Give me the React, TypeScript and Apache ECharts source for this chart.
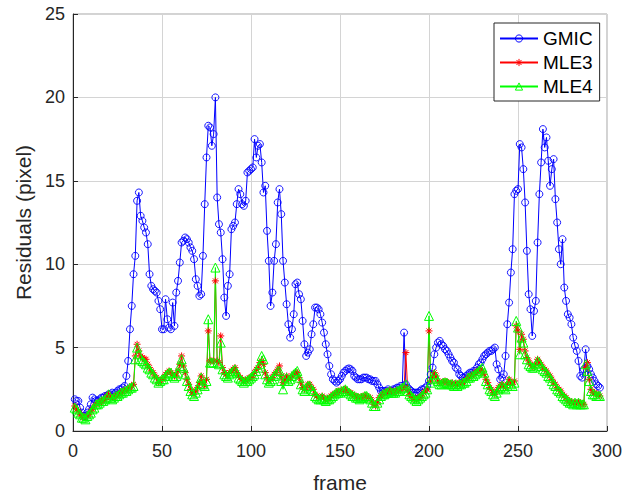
import React, { useEffect, useRef } from "react";
import * as echarts from "echarts";

const gmic = [
  1.9,1.8,1.8,1.4,1.1,0.9,0.9,1.1,1.3,1.6,
  2.0,1.9,1.8,1.8,1.9,2.0,2.0,2.1,2.1,2.2,
  2.2,2.3,2.2,2.3,2.4,2.5,2.5,2.6,2.7,3.3,
  4.2,6.1,7.5,9.4,10.5,13.8,14.3,12.9,12.6,12.2,
  11.9,11.2,9.4,8.7,8.5,8.4,8.3,7.8,7.3,6.1,
  6.1,7.9,6.7,6.2,6.1,7.7,6.3,8.3,9.0,10.1,
  11.3,11.4,11.6,11.5,11.3,11.0,10.8,10.3,9.1,8.7,
  8.1,8.2,10.5,13.6,16.4,18.3,18.2,17.1,17.8,20.0,
  14.0,12.4,11.9,10.3,8.0,6.9,8.7,9.4,12.1,12.3,
  12.5,13.6,14.5,14.2,13.6,13.5,13.8,15.5,15.6,15.7,
  15.8,17.5,16.4,17.1,17.2,16.1,14.3,14.7,12.0,10.2,
  7.5,8.3,10.2,11.2,13.7,14.5,13.0,10.2,8.9,7.6,
  6.4,5.6,6.1,7.0,8.8,8.9,8.2,7.9,6.6,5.2,
  4.5,4.7,4.9,5.8,6.4,7.4,7.4,7.3,7.0,6.5,
  5.9,5.2,4.6,3.9,3.4,3.1,3.0,2.9,3.0,3.1,
  3.3,3.5,3.6,3.7,3.75,3.7,3.6,3.3,3.2,3.1,
  3.1,3.1,3.2,3.2,3.2,3.1,3.1,3.0,3.0,3.0,
  2.8,2.6,2.4,2.4,2.4,2.4,2.5,2.4,2.4,2.5,
  2.5,2.6,2.6,2.7,2.7,5.9,2.8,2.6,2.5,2.4,
  2.3,2.3,2.3,2.3,2.4,2.5,2.5,2.6,2.7,3.0,
  3.4,3.8,4.6,5.0,5.3,5.4,5.2,5.1,4.9,4.8,
  4.6,4.4,4.2,4.1,3.8,3.7,3.4,3.3,3.2,3.2,
  3.3,3.4,3.5,3.5,3.6,3.6,3.8,4.0,4.1,4.3,
  4.5,4.6,4.7,4.8,4.8,4.9,5.0,4.0,3.7,3.1,
  3.2,3.4,4.5,6.4,7.7,9.5,10.9,14.2,14.4,14.5,
  17.2,17.0,15.7,13.7,10.8,8.2,7.3,5.7,7.2,7.8,
  11.3,14.2,16.1,18.1,17.0,17.6,16.2,14.7,15.7,16.3,
  13.9,12.5,10.9,10.0,11.5,8.6,7.8,7.0,6.8,6.4,
  5.6,5.1,4.8,4.2,3.3,3.2,3.7,4.9,3.9,3.7,
  3.4,3.2,3.0,2.8,2.7,2.6,
];

const mle3 = [
  1.5,1.3,1.2,1.0,0.9,0.8,0.8,0.9,1.0,1.2,
  1.3,1.5,1.6,1.7,1.7,1.8,1.8,1.9,2.1,2.2,
  2.0,2.0,2.0,2.1,2.2,2.2,2.3,2.4,2.4,2.5,
  2.5,2.6,2.7,2.8,4.5,5.2,4.8,4.5,4.4,4.3,
  4.3,4.0,3.8,3.6,3.5,3.3,3.2,2.9,3.0,3.1,
  3.2,3.4,3.5,3.6,3.5,3.4,3.3,3.3,3.6,4.0,
  4.5,3.9,3.5,3.1,2.8,2.5,2.3,2.2,2.4,2.6,
  2.9,3.3,2.9,2.7,3.1,6.0,4.2,4.2,4.2,9.0,
  4.2,4.1,5.7,3.8,3.5,3.4,3.3,3.5,3.6,3.7,
  3.8,3.5,3.3,3.2,3.1,3.0,3.0,3.1,3.2,3.2,
  3.3,3.5,3.7,3.8,4.1,4.2,4.0,3.5,3.2,3.0,
  3.1,3.2,3.4,3.5,3.7,3.9,3.3,2.9,3.1,3.3,
  3.1,3.2,3.3,3.4,3.5,3.5,3.2,2.9,2.6,2.5,
  2.6,2.8,2.8,2.6,2.5,2.2,2.1,2.0,2.0,2.1,
  2.0,1.9,1.9,2.0,2.1,2.2,2.2,2.3,2.4,2.4,
  2.4,2.5,2.5,2.4,2.3,2.3,2.2,2.1,2.1,2.0,
  2.0,2.0,2.1,2.1,2.1,2.0,2.0,1.8,1.6,1.5,
  1.7,2.0,2.1,2.2,2.3,2.3,2.4,2.4,2.4,2.3,
  2.4,2.4,2.4,2.5,2.6,2.6,4.7,2.5,2.2,2.1,
  2.0,1.9,1.9,2.0,2.0,2.1,2.3,2.4,2.5,6.0,
  3.0,3.2,3.5,3.3,3.0,2.9,2.9,2.9,3.0,2.9,
  2.9,2.8,2.9,2.8,2.8,2.8,2.9,2.8,2.9,3.0,
  3.1,3.2,3.3,3.3,3.4,3.5,3.6,3.6,3.7,3.6,
  3.4,3.1,2.9,2.6,2.5,2.3,2.2,2.4,2.6,2.7,
  2.8,2.7,2.6,2.8,3.1,2.9,2.8,3.0,6.3,6.0,
  4.9,5.8,5.5,4.8,4.4,4.2,4.0,3.9,3.8,4.0,
  4.3,4.1,4.0,3.8,3.7,3.6,3.4,3.3,3.1,2.9,
  2.8,2.6,2.5,2.4,2.2,2.1,2.0,1.8,1.8,1.7,
  1.7,1.7,1.7,1.7,1.7,1.6,1.6,3.8,4.1,3.1,
  2.5,2.3,2.3,2.2,2.2,2.1,
];

const mle4 = [
  1.4,1.3,1.1,1.0,0.8,0.8,0.7,0.9,1.0,1.1,
  1.3,1.4,1.6,1.6,1.7,1.8,1.8,1.9,2.0,2.2,
  2.0,1.9,2.0,2.1,2.1,2.2,2.3,2.3,2.4,2.4,
  2.5,2.6,2.6,2.7,4.3,5.0,4.6,4.3,4.2,4.1,
  4.0,3.8,3.7,3.5,3.4,3.2,3.1,2.9,3.0,3.1,
  3.1,3.3,3.4,3.5,3.5,3.3,3.2,3.3,3.5,3.9,
  4.3,3.8,3.4,3.0,2.7,2.4,2.2,2.1,2.3,2.5,
  2.8,3.2,2.8,2.7,3.0,6.7,4.1,4.1,4.1,9.8,
  4.1,4.0,5.3,3.7,3.4,3.3,3.2,3.4,3.5,3.6,
  3.7,3.5,3.2,3.1,3.0,2.9,3.0,3.0,3.1,3.2,
  3.3,3.4,3.6,3.8,4.0,4.5,4.3,3.4,3.1,2.9,
  3.0,3.1,3.3,3.4,3.6,3.6,3.0,2.5,3.0,3.2,
  3.0,3.1,3.3,3.4,3.5,3.6,3.2,2.8,2.5,2.4,
  2.6,2.7,2.7,2.5,2.4,2.1,2.0,1.9,1.9,2.0,
  1.9,1.8,1.9,1.9,2.0,2.1,2.2,2.3,2.3,2.3,
  2.4,2.4,2.5,2.4,2.3,2.2,2.1,2.1,2.0,2.0,
  1.9,2.0,2.0,2.1,2.1,2.0,1.9,1.7,1.5,1.5,
  1.7,1.9,2.1,2.2,2.2,2.3,2.3,2.4,2.3,2.3,
  2.3,2.4,2.4,2.5,2.6,2.6,2.8,2.4,2.2,2.1,
  2.0,1.9,1.8,1.9,2.0,2.1,2.2,2.3,2.5,6.9,
  2.9,3.1,3.4,3.2,3.0,2.8,2.8,2.9,2.9,2.9,
  2.8,2.8,2.8,2.7,2.8,2.7,2.8,2.8,2.9,2.9,
  3.0,3.2,3.2,3.3,3.3,3.4,3.5,3.6,3.7,3.8,
  3.5,3.0,2.8,2.5,2.4,2.2,2.1,2.3,2.5,2.6,
  2.7,2.6,2.5,2.7,3.0,2.8,2.7,2.9,6.6,6.2,
  4.6,5.6,5.3,4.6,4.3,4.0,3.9,3.8,3.8,4.0,
  4.2,4.1,3.9,3.7,3.6,3.5,3.3,3.2,3.0,2.8,
  2.7,2.5,2.4,2.3,2.1,2.0,1.9,1.8,1.7,1.7,
  1.6,1.7,1.6,1.7,1.6,1.6,1.6,4.0,3.6,3.0,
  2.4,2.2,2.2,2.1,2.1,2.1,
];

const seriesNames = ["GMIC", "MLE3", "MLE4"];
const xTicks = [0, 50, 100, 150, 200, 250, 300];
const yTicks = [0, 5, 10, 15, 20, 25];

const toPoints = (vals: number[]) => vals.map((v, i) => [i + 1, v]);

const ASTERISK = "path://M5,0L5,10M0,5L10,5M1.5,1.5L8.5,8.5M1.5,8.5L8.5,1.5";
const FONT = "'Liberation Sans', Arial, Helvetica, sans-serif";
const AX = "#262626";

export default function App() {
  const ref = useRef<HTMLDivElement>(null);
  useEffect(() => {
    if (!ref.current) return;
    const chart = echarts.init(ref.current, undefined, { renderer: "svg" });
    const axisCommon = {
      axisLine: { show: true, onZero: false, lineStyle: { color: AX, width: 1 } },
      axisTick: { show: true, inside: true, length: 5, lineStyle: { color: AX } },
      splitLine: { show: true, lineStyle: { color: "#d4d4d4", width: 1 } },
      nameLocation: "middle" as const,
      nameTextStyle: { fontSize: 21, color: AX, fontFamily: FONT },
    };
    chart.setOption({
      animation: false,
      backgroundColor: "#ffffff",
      textStyle: { fontFamily: FONT },
      grid: {
        left: 73,
        right: 28,
        top: 14,
        bottom: 67,
        show: true,
        borderColor: "#a6a6a6",
        borderWidth: 1,
        containLabel: false,
        outerBoundsMode: "none",
      },
      legend: {
        data: seriesNames,
        orient: "vertical",
        left: 494,
        top: 23,
        padding: [6, 7, 5, 5],
        itemWidth: 38,
        itemHeight: 9,
        itemGap: 5,
        borderColor: AX,
        borderWidth: 1,
        backgroundColor: "#ffffff",
        borderRadius: 0,
        itemStyle: { color: "transparent", borderColor: "inherit", borderWidth: 1 },
        textStyle: { fontSize: 19, color: "#000", fontFamily: FONT },
      },
      xAxis: {
        type: "value",
        min: xTicks[0],
        max: xTicks[xTicks.length - 1],
        interval: 50,
        name: "frame",
        nameGap: 41,
        axisLabel: { fontSize: 18, color: AX, margin: 11, fontFamily: FONT },
        ...axisCommon,
      },
      yAxis: {
        type: "value",
        min: yTicks[0],
        max: yTicks[yTicks.length - 1],
        interval: 5,
        name: "Residuals (pixel)",
        nameGap: 38,
        axisLabel: { fontSize: 18, color: AX, margin: 8, fontFamily: FONT },
        ...axisCommon,
      },
      series: [
        {
          name: seriesNames[0],
          type: "line",
          data: toPoints(gmic),
          color: "#0000ff",
          symbol: "circle",
          symbolSize: 7,
          showAllSymbol: true,
          lineStyle: { color: "#0000ff", width: 1 },
          itemStyle: { color: "transparent", borderColor: "#0000ff", borderWidth: 0.9 },
        },
        {
          name: seriesNames[1],
          type: "line",
          data: toPoints(mle3),
          color: "#ff0000",
          symbol: ASTERISK,
          symbolSize: 7,
          showAllSymbol: true,
          lineStyle: { color: "#ff0000", width: 1 },
          itemStyle: { color: "transparent", borderColor: "#ff0000", borderWidth: 1 },
        },
        {
          name: seriesNames[2],
          type: "line",
          data: toPoints(mle4),
          color: "#00ff00",
          symbol: "triangle",
          symbolSize: 9,
          showAllSymbol: true,
          lineStyle: { color: "#00ff00", width: 1 },
          itemStyle: { color: "transparent", borderColor: "#00ff00", borderWidth: 1 },
        },
      ],
    });
    return () => chart.dispose();
  }, []);
  return (
    <div
      ref={ref}
      style={{ position: "absolute", left: 0, top: 0, width: 635, height: 498 }}
    />
  );
}
